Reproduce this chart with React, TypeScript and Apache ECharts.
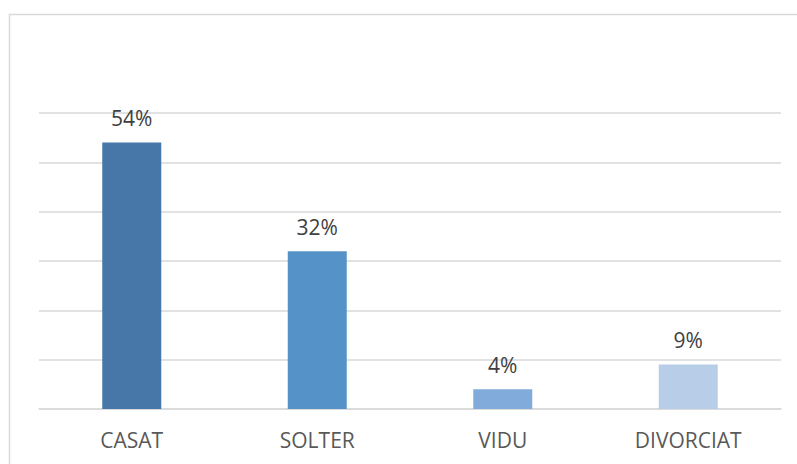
import React, { useEffect, useRef } from "react";
import * as echarts from "echarts";

const categories = ["CASAT", "SOLTER", "VIDU", "DIVORCIAT"];
const values = [54, 32, 4, 9];
const barColors = ["#4677A8", "#5592C8", "#80ABDB", "#B7CDE8"];

export default function App() {
  const ref = useRef<HTMLDivElement>(null);
  useEffect(() => {
    document.body.style.margin = "0";
    const chart = echarts.init(ref.current!, null, { renderer: "svg" });
    chart.setOption({
      animation: false,
      backgroundColor: "#ffffff",
      graphic: [
        {
          type: "rect",
          shape: { x: 9.5, y: 14.5, width: 820, height: 480 },
          style: { fill: "none", stroke: "#d9d9d9", lineWidth: 1.5 },
          silent: true,
          z: -1,
        },
      ],
      grid: { left: 39, right: 16, top: 113, bottom: 55 },
      xAxis: {
        type: "category",
        data: categories,
        axisLine: { show: true, lineStyle: { color: "#d9d9d9", width: 1.5 } },
        axisTick: { show: false },
        axisLabel: {
          color: "#595959",
          fontSize: 21,
          fontFamily: "Open Sans",
          margin: 20,
        },
      },
      yAxis: {
        type: "value",
        min: 0,
        max: 60,
        interval: 10,
        axisLabel: { show: false },
        axisLine: { show: false },
        axisTick: { show: false },
        splitLine: { lineStyle: { color: "#d9d9d9", width: 1.5 } },
      },
      series: [
        {
          type: "bar",
          barWidth: 59,
          data: values.map((v, i) => ({ value: v, itemStyle: { color: barColors[i] } })),
          label: {
            show: true,
            position: "top",
            distance: 14,
            formatter: "{c}%",
            color: "#404040",
            fontSize: 21,
            fontFamily: "Open Sans",
          },
        },
      ],
    });
    return () => chart.dispose();
  }, []);
  return <div ref={ref} style={{ width: 797, height: 464 }} />;
}
